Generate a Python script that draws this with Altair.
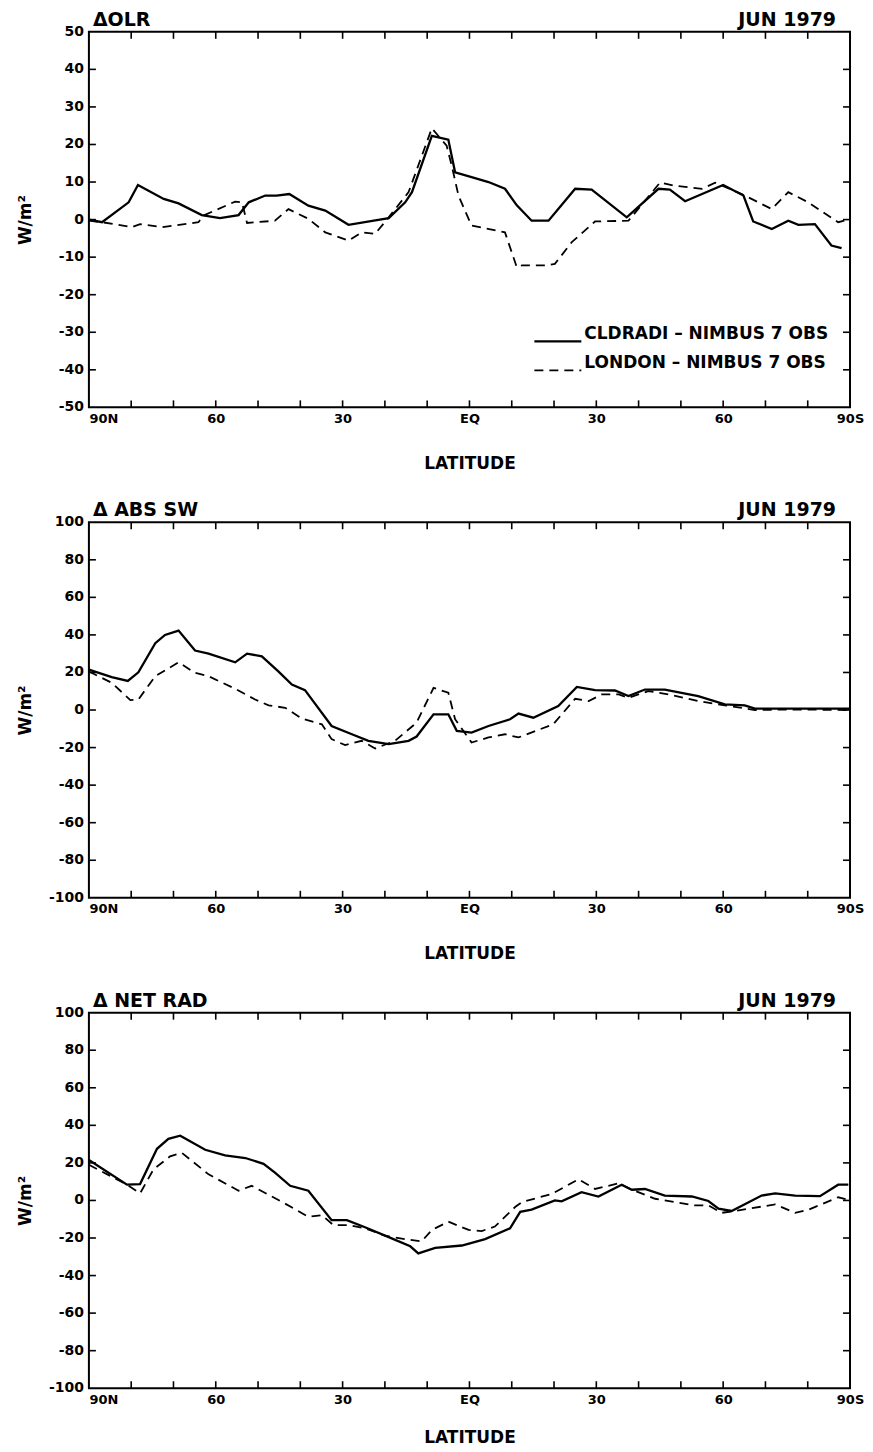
import altair as alt
import pandas as pd

FONT = "DejaVu Sans"

# ---------------- Panel 1: delta OLR ----------------
olr_cld_lat = [90.0, 86.9, 80.6, 78.4, 75.9, 72.3, 68.8, 63.3, 59.0, 54.6,
               52.2, 48.3, 45.6, 42.6, 38.1, 34.1, 28.6, 19.1, 15.2, 13.6,
               8.9, 5.0, 3.4, -0.5, -4.5, -8.4, -11.2, -14.7, -18.7, -25.0,
               -28.9, -37.2, -44.7, -47.4, -51.0, -60.0, -64.8, -67.1, -71.5, -75.4,
               -77.8, -81.7, -85.6, -88.0]
olr_cld_val = [0.0, -0.7, 4.6, 9.2, 7.7, 5.5, 4.3, 1.2, 0.4, 1.2,
               4.6, 6.4, 6.4, 6.8, 3.7, 2.4, -1.4, 0.4, 4.6, 7.3,
               22.3, 21.3, 12.6, 11.3, 10.0, 8.2, 3.8, -0.3, -0.3, 8.2,
               8.0, 0.6, 8.2, 8.0, 4.9, 9.2, 6.4, -0.5, -2.5, -0.3,
               -1.4, -1.2, -6.9, -7.6]
olr_lon_lat = [90.0, 86.9, 79.8, 77.9, 72.7, 64.1, 62.9, 55.4, 53.8, 52.6,
               46.0, 42.8, 38.1, 34.1, 28.6, 25.5, 22.3, 19.1, 14.4, 8.9,
               5.4, 4.2, 2.6, -0.5, -8.4, -11.2, -12.4, -17.9, -20.2, -24.2,
               -29.7, -37.6, -45.1, -48.6, -55.0, -58.1, -64.4, -71.5, -75.4, -80.1,
               -87.2, -89.6]
olr_lon_val = [-0.3, -0.7, -2.0, -1.2, -2.0, -0.7, 1.1, 4.8, 4.6, -0.9,
               -0.3, 2.8, 0.2, -3.4, -5.6, -3.4, -3.8, 0.6, 7.3, 24.3,
               19.7, 14.4, 6.4, -1.6, -3.4, -12.7, -12.2, -12.2, -11.8, -6.0,
               -0.5, -0.3, 9.9, 9.0, 8.2, 9.8, 6.8, 2.8, 7.3, 4.6,
               -0.7, 0.0]

# ---------------- Panel 2: delta ABS SW ----------------
sw_cld_lat = [90.0, 84.6, 80.8, 78.3, 74.3, 72.0, 68.8, 64.9, 61.7, 55.4,
              52.6, 49.1, 45.2, 42.0, 38.9, 32.6, 27.8, 23.9, 19.1, 14.4,
              12.5, 8.5, 5.0, 3.0, -0.5, -4.5, -9.6, -11.6, -15.1, -21.0,
              -25.4, -29.7, -34.4, -37.6, -41.5, -46.2, -54.1, -60.4, -65.1, -67.5,
              -75.4, -90.0]
sw_cld_val = [21.5, 17.5, 15.5, 20.1, 35.6, 40.0, 42.3, 31.7, 30.0, 25.4,
              30.0, 28.6, 20.6, 13.6, 10.6, -8.5, -12.9, -16.4, -18.2, -16.4,
              -14.1, -2.3, -2.3, -11.1, -12.0, -8.5, -4.9, -1.9, -4.1, 2.1,
              12.3, 10.6, 10.4, 7.4, 10.9, 10.9, 7.4, 3.0, 2.5, 0.7,
              0.7, 0.7]
sw_lon_lat = [90.0, 84.6, 80.2, 78.3, 74.3, 68.8, 64.9, 61.7, 55.4, 50.7,
              47.5, 43.6, 39.6, 34.9, 32.6, 29.4, 25.5, 22.3, 17.6, 12.5,
              8.5, 5.0, 3.4, -0.5, -4.5, -8.4, -11.6, -19.8, -25.0, -28.2,
              -31.3, -35.3, -37.6, -42.3, -47.1, -54.1, -60.4, -67.5, -75.4, -90.0]
sw_lon_val = [20.5, 14.5, 5.3, 5.6, 18.0, 25.4, 19.8, 18.0, 11.3, 5.6,
              2.5, 1.2, -4.6, -7.6, -15.5, -18.7, -16.4, -20.5, -16.4, -6.7,
              11.8, 9.2, -4.9, -17.3, -14.6, -12.9, -14.6, -7.6, 6.0, 4.8,
              8.3, 8.3, 6.5, 10.1, 8.3, 4.8, 2.5, 0.0, 0.3, 0.0]

# ---------------- Panel 3: delta NET RAD ----------------
net_cld_lat = [90.0, 81.0, 77.9, 73.9, 71.2, 68.4, 62.5, 57.8, 53.0, 48.7,
               46.0, 42.4, 38.1, 32.6, 29.0, 24.7, 19.1, 14.0, 12.1, 8.1,
               1.8, -3.7, -9.6, -12.0, -14.7, -20.2, -21.8, -26.5, -30.5, -36.0,
               -38.4, -41.5, -46.2, -52.6, -56.5, -58.9, -62.0, -69.1, -72.3, -77.0,
               -82.9, -87.2, -89.6]
net_cld_val = [21.5, 8.4, 8.7, 27.5, 32.8, 34.5, 27.0, 24.0, 22.6, 19.5,
               14.8, 7.8, 5.2, -10.5, -10.5, -14.3, -19.5, -24.4, -28.2, -25.3,
               -24.0, -20.6, -14.8, -6.1, -4.9, 0.0, -0.5, 4.4, 2.1, 8.4,
               5.7, 6.1, 2.6, 2.1, -0.3, -4.4, -5.6, 2.6, 3.8, 2.6,
               2.3, 8.4, 8.4]
net_lon_lat = [90.0, 81.0, 77.9, 74.7, 70.8, 68.0, 61.7, 54.6, 51.5, 43.6,
               38.1, 34.9, 32.2, 28.6, 24.7, 20.0, 14.4, 11.3, 8.9, 5.0,
               0.2, -2.9, -6.0, -10.8, -12.4, -19.5, -25.8, -29.7, -35.3, -38.4,
               -43.9, -53.3, -56.5, -59.6, -62.8, -72.3, -77.0, -80.2, -87.2, -89.6]
net_lon_val = [19.0, 8.4, 3.8, 16.6, 23.5, 25.3, 13.9, 5.2, 7.8, -1.7,
               -8.7, -7.8, -13.1, -13.1, -14.8, -18.8, -20.9, -21.8, -15.7, -11.3,
               -15.7, -16.3, -13.9, -3.5, -0.9, 3.5, 11.3, 6.1, 9.1, 5.7,
               0.9, -2.6, -2.6, -6.6, -5.6, -2.1, -6.6, -4.9, 1.7, 0.3]

panel_titles = ["\u0394OLR", "\u0394 ABS SW", "\u0394 NET RAD"]
date_label = "JUN 1979"
legend_labels = ["CLDRADI \u2013 NIMBUS 7 OBS", "LONDON \u2013 NIMBUS 7 OBS"]
x_label_values = [90, 60, 30, 0, -30, -60, -90]
x_tick_values = [80, 70, 60, 50, 40, 30, 20, 10, 0, -10, -20, -30, -40, -50, -60, -70, -80]

W, H = 762, 376
TICK = 7


def series_df(lat, val):
    return pd.DataFrame({"lat": lat, "val": val, "idx": list(range(len(lat)))})


def panel(cld, lon, ymin, ymax, ystep, title, tpad, with_legend=False):
    y_vals = list(range(ymin, ymax + 1, ystep))
    xs = alt.Scale(domain=[90, -90], nice=False, zero=False)
    ys = alt.Scale(domain=[ymin, ymax], nice=False, zero=False)
    x_axis = alt.Axis(
        values=x_label_values,
        labelExpr="datum.value == 90 ? '90N' : datum.value == -90 ? '90S' : "
                  "datum.value == 0 ? 'EQ' : '' + abs(datum.value)",
        ticks=False, domain=False, grid=False, labelOverlap=False,
        labelAlign={"condition": {"test": "datum.value == 90", "value": "left"}, "value": "center"},
        labelPadding=5, labelFontSize=13, labelFont=FONT, labelFontWeight="bold",
        labelColor="black",
        title="LATITUDE", titlePadding=tpad, titleFontSize=17, titleFont=FONT,
        titleFontWeight="bold", titleColor="black",
    )
    y_axis = alt.Axis(
        values=y_vals, labels=False,
        ticks=False, domain=False, grid=False,
        title="W/m\u00b2", titleFont=FONT, titleFontSize=17, titleFontWeight="bold",
        titleColor="black", titleAngle=270, titleBaseline="middle", titleAlign="center",
        titleX=-63, titleY=H / 2,
    )

    solid = alt.Chart(series_df(*cld)).mark_line(color="black", strokeWidth=2.3).encode(
        x=alt.X("lat:Q", scale=xs, axis=x_axis),
        y=alt.Y("val:Q", scale=ys, axis=y_axis),
        order="idx:Q",
    )
    dashed = alt.Chart(series_df(*lon)).mark_line(
        color="black", strokeWidth=1.8, strokeDash=[9, 6]
    ).encode(
        x=alt.X("lat:Q"),
        y=alt.Y("val:Q"),
        order="idx:Q",
    )

    xt = pd.DataFrame({"lat": x_tick_values})
    inner_y = [v for v in y_vals if v not in (ymin, ymax)]
    yt = pd.DataFrame({"val": inner_y})
    ylab = pd.DataFrame({"val": y_vals, "lab": [str(v) for v in y_vals]})
    rule = dict(color="black", strokeWidth=1.6)
    bot_ticks = alt.Chart(xt).mark_rule(**rule).encode(
        x=alt.X("lat:Q"), y=alt.value(H), y2=alt.value(H - TICK))
    top_ticks = alt.Chart(xt).mark_rule(**rule).encode(
        x=alt.X("lat:Q"), y=alt.value(0), y2=alt.value(TICK))
    left_ticks = alt.Chart(yt).mark_rule(**rule).encode(
        y=alt.Y("val:Q"), x=alt.value(0), x2=alt.value(TICK))
    right_ticks = alt.Chart(yt).mark_rule(**rule).encode(
        y=alt.Y("val:Q"), x=alt.value(W), x2=alt.value(W - TICK))
    y_labels = alt.Chart(ylab).mark_text(
        align="right", baseline="middle", font=FONT, fontSize=14,
        fontWeight="bold", color="black"
    ).encode(y=alt.Y("val:Q"), x=alt.value(-5), text="lab:N")

    tdf = pd.DataFrame({"t": [title]})
    ddf = pd.DataFrame({"t": [date_label]})
    ttl = alt.Chart(tdf).mark_text(
        align="left", baseline="alphabetic", font=FONT, fontSize=19,
        fontWeight="bold", color="black"
    ).encode(text="t:N", x=alt.value(4), y=alt.value(-6))
    dte = alt.Chart(ddf).mark_text(
        align="right", baseline="alphabetic", font=FONT, fontSize=19,
        fontWeight="bold", color="black"
    ).encode(text="t:N", x=alt.value(W - 14), y=alt.value(-6))

    layers = [solid, dashed, bot_ticks, top_ticks, left_ticks, right_ticks,
              y_labels, ttl, dte]

    if with_legend:
        l1 = pd.DataFrame({"t": [legend_labels[0]]})
        l2 = pd.DataFrame({"t": [legend_labels[1]]})
        lg1 = alt.Chart(l1).mark_rule(color="black", strokeWidth=2.3).encode(
            x=alt.value(446), x2=alt.value(493), y=alt.value(310))
        lg2 = alt.Chart(l2).mark_rule(color="black", strokeWidth=1.8, strokeDash=[9, 6]).encode(
            x=alt.value(446), x2=alt.value(493), y=alt.value(339))
        lt1 = alt.Chart(l1).mark_text(
            align="left", baseline="middle", font=FONT, fontSize=17,
            fontWeight="bold", color="black"
        ).encode(text="t:N", x=alt.value(496), y=alt.value(303))
        lt2 = alt.Chart(l2).mark_text(
            align="left", baseline="middle", font=FONT, fontSize=17,
            fontWeight="bold", color="black"
        ).encode(text="t:N", x=alt.value(496), y=alt.value(332))
        layers += [lg1, lg2, lt1, lt2]

    return alt.layer(*layers).properties(width=W, height=H)


p1 = panel((olr_cld_lat, olr_cld_val), (olr_lon_lat, olr_lon_val), -50, 50, 10,
           panel_titles[0], 30, with_legend=True)
p2 = panel((sw_cld_lat, sw_cld_val), (sw_lon_lat, sw_lon_val), -100, 100, 20,
           panel_titles[1], 30)
p3 = panel((net_cld_lat, net_cld_val), (net_lon_lat, net_lon_val), -100, 100, 20,
           panel_titles[2], 23)

chart = alt.vconcat(p1, p2, p3, spacing=115, bounds="flush").properties(
    padding={"left": 8, "top": 1, "right": 0, "bottom": 0},
    background="white",
).configure_view(stroke="black", strokeWidth=2)

chart.save("out.html", embed_options={"renderer": "svg", "actions": False})
